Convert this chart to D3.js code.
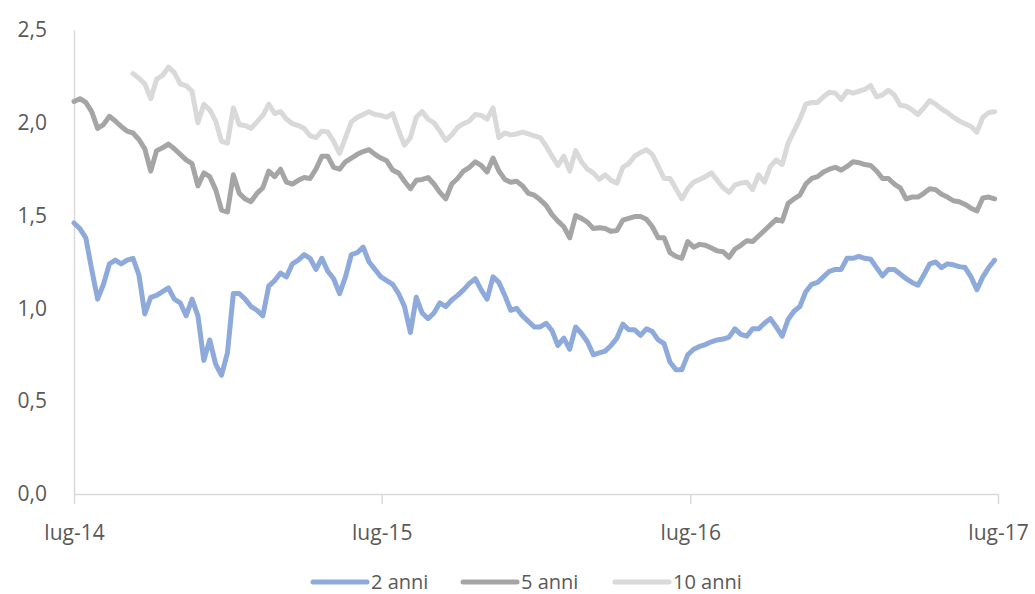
<!DOCTYPE html>
<html lang="it">
<head>
    <meta charset="utf-8">
    <script src="https://d3js.org/d3.v7.min.js"></script>
    <style>
        body { margin: 0; background: #fff; }
        text { font-family: "Open Sans", sans-serif; fill: #595959; }
    </style>
</head>
<body>
<script>
    // weekly observations, from lug-14 to lug-17
    const startDate = new Date(2014, 6, 1);
    const endDate = new Date(2017, 6, 1);

    const anni2 = [
        1.46, 1.43, 1.38, 1.21, 1.05, 1.13, 1.24, 1.26, 1.24, 1.26,
        1.27, 1.18, 0.97, 1.06, 1.07, 1.09, 1.11, 1.05, 1.03, 0.96,
        1.05, 0.96, 0.72, 0.83, 0.70, 0.64, 0.76, 1.08, 1.08, 1.05,
        1.01, 0.99, 0.96, 1.12, 1.15, 1.19, 1.17, 1.24, 1.26, 1.29,
        1.27, 1.21, 1.27, 1.20, 1.16, 1.08, 1.17, 1.29, 1.30, 1.33,
        1.25, 1.21, 1.17, 1.15, 1.13, 1.08, 1.01, 0.87, 1.06, 0.975,
        0.945, 0.975, 1.03, 1.01, 1.045, 1.07, 1.10, 1.135, 1.16, 1.10,
        1.05, 1.17, 1.14, 1.07, 0.99, 1.00, 0.96, 0.93, 0.90, 0.90,
        0.92, 0.88, 0.80, 0.84, 0.78, 0.90, 0.865, 0.82, 0.75, 0.76,
        0.77, 0.80, 0.84, 0.915, 0.885, 0.885, 0.855, 0.89, 0.875, 0.83,
        0.81, 0.71, 0.67, 0.67, 0.75, 0.78, 0.795, 0.805, 0.82, 0.83,
        0.835, 0.845, 0.89, 0.86, 0.85, 0.89, 0.89, 0.92, 0.945, 0.90,
        0.85, 0.94, 0.985, 1.01, 1.09, 1.13, 1.14, 1.17, 1.20, 1.21,
        1.21, 1.27, 1.27, 1.28, 1.27, 1.265, 1.22, 1.175, 1.21, 1.21,
        1.185, 1.16, 1.14, 1.125, 1.18, 1.24, 1.25, 1.22, 1.24, 1.235,
        1.225, 1.22, 1.17, 1.10, 1.17, 1.22, 1.26
    ];

    const anni5 = [
        2.115, 2.13, 2.11, 2.06, 1.97, 1.99, 2.035, 2.01, 1.98, 1.955,
        1.945, 1.91, 1.86, 1.74, 1.85, 1.865, 1.885, 1.86, 1.83, 1.80,
        1.78, 1.66, 1.73, 1.71, 1.64, 1.53, 1.52, 1.72, 1.62, 1.59,
        1.575, 1.62, 1.65, 1.74, 1.71, 1.75, 1.68, 1.67, 1.69, 1.705,
        1.70, 1.75, 1.82, 1.82, 1.76, 1.75, 1.79, 1.81, 1.83, 1.845,
        1.855, 1.83, 1.81, 1.795, 1.745, 1.73, 1.685, 1.645, 1.69, 1.695,
        1.705, 1.67, 1.625, 1.59, 1.67, 1.70, 1.74, 1.76, 1.79, 1.77,
        1.735, 1.81, 1.74, 1.695, 1.68, 1.685, 1.66, 1.62, 1.61, 1.585,
        1.555, 1.505, 1.47, 1.44, 1.38, 1.50, 1.485, 1.465, 1.43, 1.435,
        1.43, 1.415, 1.42, 1.475, 1.485, 1.495, 1.495, 1.48, 1.44, 1.38,
        1.38, 1.30, 1.28, 1.27, 1.36, 1.33, 1.345, 1.34, 1.325, 1.31,
        1.305, 1.275, 1.32, 1.34, 1.365, 1.36, 1.39, 1.42, 1.45, 1.48,
        1.47, 1.565, 1.59, 1.61, 1.67, 1.70, 1.71, 1.735, 1.75, 1.76,
        1.745, 1.765, 1.79, 1.785, 1.775, 1.77, 1.74, 1.70, 1.70, 1.67,
        1.65, 1.59, 1.60, 1.60, 1.62, 1.645, 1.64, 1.615, 1.60, 1.58,
        1.575, 1.56, 1.54, 1.525, 1.595, 1.60, 1.59
    ];

    // 10 anni series starts later (first 10 weeks missing)
    const anni10 = [
        null, null, null, null, null, null, null, null, null, null,
        2.265, 2.24, 2.21, 2.13, 2.235, 2.255, 2.30, 2.27, 2.21, 2.20,
        2.17, 2.00, 2.10, 2.07, 2.01, 1.90, 1.89, 2.08, 1.99, 1.985,
        1.97, 2.005, 2.04, 2.10, 2.05, 2.06, 2.02, 1.995, 1.985, 1.97,
        1.93, 1.92, 1.955, 1.95, 1.90, 1.835, 1.92, 2.005, 2.03, 2.045,
        2.06, 2.045, 2.04, 2.03, 2.05, 1.96, 1.88, 1.92, 2.03, 2.06,
        2.02, 2.00, 1.955, 1.905, 1.935, 1.975, 1.995, 2.01, 2.045, 2.04,
        2.02, 2.08, 1.92, 1.945, 1.935, 1.94, 1.95, 1.94, 1.93, 1.92,
        1.875, 1.82, 1.77, 1.82, 1.74, 1.85, 1.79, 1.75, 1.73, 1.695,
        1.72, 1.69, 1.675, 1.76, 1.78, 1.82, 1.84, 1.855, 1.83, 1.765,
        1.70, 1.70, 1.645, 1.59, 1.645, 1.68, 1.695, 1.71, 1.73, 1.69,
        1.65, 1.625, 1.665, 1.675, 1.68, 1.64, 1.72, 1.68, 1.765, 1.80,
        1.775, 1.89, 1.955, 2.02, 2.10, 2.11, 2.11, 2.14, 2.165, 2.16,
        2.125, 2.17, 2.16, 2.17, 2.18, 2.20, 2.14, 2.15, 2.175, 2.15,
        2.095, 2.09, 2.07, 2.045, 2.08, 2.12, 2.10, 2.075, 2.055, 2.03,
        2.01, 1.995, 1.98, 1.95, 2.03, 2.055, 2.06
    ];

    const seriesNames = ["2 anni", "5 anni", "10 anni"];
    const seriesColours = ["#8eaadb", "#a5a5a5", "#d9d9d9"];
    const yTicks = [0, 0.5, 1, 1.5, 2, 2.5];
    const xTicks = [new Date(2014, 6, 1), new Date(2015, 6, 1), new Date(2016, 6, 1), new Date(2017, 6, 1)];

    const weeks = anni2.map(function(d, i) { return d3.timeDay.offset(startDate, i * 7); });
    const allSeries = [anni2, anni5, anni10];

    const width = 1035, height = 594;
    const margin = {top: 30, right: 37, bottom: 100, left: 74};

    const svg = d3.select("body").append("svg")
        .attr("width", width)
        .attr("height", height);

    const x = d3.scaleTime()
        .domain([startDate, endDate])
        .range([margin.left, width - margin.right]);

    const y = d3.scaleLinear()
        .domain([0, 2.5])
        .range([height - margin.bottom, margin.top]);

    const itFormat = d3.formatLocale({decimal: ",", thousands: ".", grouping: [3], currency: ["", " €"]}).format(".1f");

    // Y axis
    const yAxis = svg.append("g")
        .attr("transform", "translate(" + margin.left + ",0)")
        .call(d3.axisLeft(y).tickValues(yTicks).tickFormat(itFormat).tickSize(0).tickPadding(27));
    yAxis.select(".domain").attr("stroke", "#d9d9d9").attr("stroke-width", 1.5);
    yAxis.selectAll("text").style("font-size", "21px").attr("fill", "#595959");

    // X axis
    const xAxis = svg.append("g")
        .attr("transform", "translate(0," + y(0) + ")")
        .call(d3.axisBottom(x).tickValues(xTicks)
            .tickFormat(function(d) { return "lug-" + d3.timeFormat("%y")(d); })
            .tickSize(10).tickSizeOuter(0).tickPadding(21));
    xAxis.select(".domain").attr("stroke", "#d9d9d9").attr("stroke-width", 1.5);
    xAxis.selectAll("line").attr("stroke", "#d9d9d9").attr("stroke-width", 1.5);
    xAxis.selectAll("text").style("font-size", "21px").attr("fill", "#595959");

    // lines, light one first so the blue sits on top
    const line = d3.line()
        .defined(function(d) { return d != null; })
        .x(function(d, i) { return x(weeks[i]); })
        .y(function(d) { return y(d); });

    [2, 1, 0].forEach(function(s) {
        svg.append("path")
            .datum(allSeries[s])
            .attr("fill", "none")
            .attr("stroke", seriesColours[s])
            .attr("stroke-width", 5)
            .attr("stroke-linejoin", "round")
            .attr("stroke-linecap", "round")
            .attr("d", line);
    });

    // legend
    const legendX = [313, 463, 615];
    const legend = svg.append("g").attr("transform", "translate(0,582)");
    seriesNames.forEach(function(name, i) {
        legend.append("line")
            .attr("x1", legendX[i]).attr("x2", legendX[i] + 54)
            .attr("y1", 0).attr("y2", 0)
            .attr("stroke", seriesColours[i])
            .attr("stroke-width", 5)
            .attr("stroke-linecap", "round");
        legend.append("text")
            .attr("x", legendX[i] + 58)
            .attr("y", 7)
            .style("font-size", "20px")
            .text(name);
    });
</script>
</body>
</html>
